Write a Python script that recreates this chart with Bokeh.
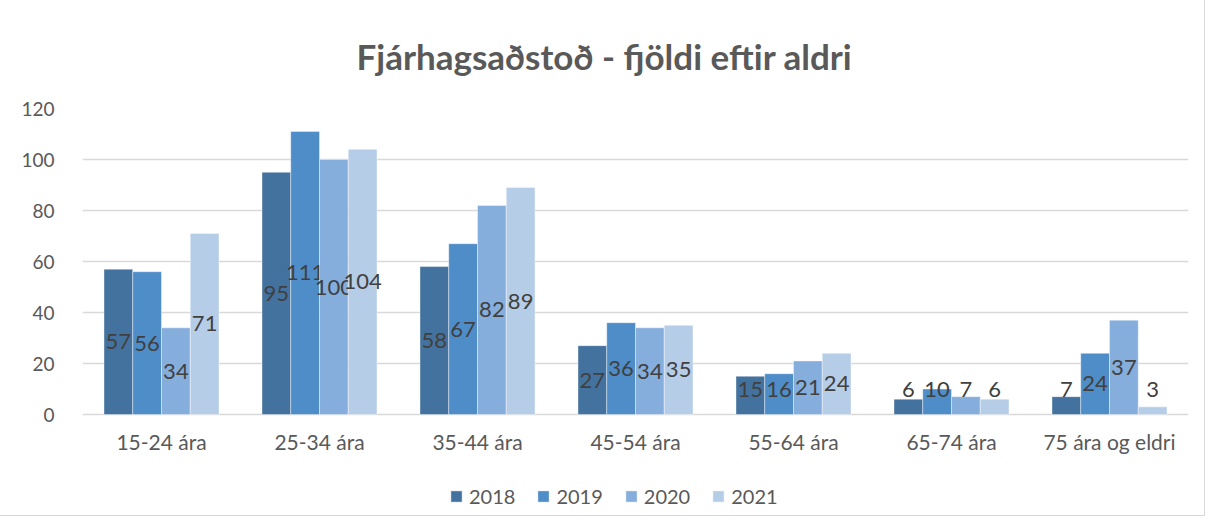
from bokeh.plotting import figure
from bokeh.models import ColumnDataSource, FactorRange, Range1d, Legend, LegendItem, Title, FixedTicker
from bokeh.transform import dodge
from bokeh.core.properties import value
from bokeh.embed import file_html
from bokeh.resources import INLINE

categories = ["15-24 ára", "25-34 ára", "35-44 ára", "45-54 ára", "55-64 ára", "65-74 ára", "75 ára og eldri"]
years = ["2018", "2019", "2020", "2021"]
v2018 = [57, 95, 58, 27, 15, 6, 7]
v2019 = [56, 111, 67, 36, 16, 10, 24]
v2020 = [34, 100, 82, 34, 21, 7, 37]
v2021 = [71, 104, 89, 35, 24, 6, 3]
y_ticks = [0, 20, 40, 60, 80, 100, 120]
title_text = "Fjárhagsaðstoð - fjöldi eftir aldri"

colors = ["#44729F", "#4F8DC8", "#85AEDC", "#B6CDE8"]
series = [v2018, v2019, v2020, v2021]
offsets = [-0.273, -0.091, 0.091, 0.273]
bar_w = 0.182
FONT = "Lato"

# frame spans from the 120 gridline down to the legend area; 0 sits 101px above frame bottom
p = figure(x_range=FactorRange(*categories), y_range=Range1d(-39.6, 120),
           frame_width=1106, frame_height=407, output_backend="svg", toolbar_location=None,
           min_border_left=82, min_border_right=16, min_border_top=107, min_border_bottom=0)
p.styles = {"outline": "1px solid #D9D9D9"}
p.outline_line_color = None
p.background_fill_color = "white"
p.border_fill_color = "white"

p.xgrid.grid_line_color = None
p.ygrid.grid_line_color = "#D9D9D9"
p.ygrid.grid_line_width = 1.3
p.yaxis.ticker = FixedTicker(ticks=y_ticks)
p.xaxis.fixed_location = 0

for ax in (p.xaxis, p.yaxis):
    ax.axis_line_color = None
    ax.major_tick_line_color = None
    ax.minor_tick_line_color = None
    ax.major_label_text_font = FONT
    ax.major_label_text_color = "#595959"
p.xaxis.major_label_text_font_size = "21px"
p.yaxis.major_label_text_font_size = "19px"
p.xaxis.major_label_standoff = 8
p.yaxis.major_label_standoff = 22

items = []
for yr, vals, col, off in zip(years, series, colors, offsets):
    ly = [max(v / 2.0, 9.8) for v in vals]
    src = ColumnDataSource(dict(cat=categories, val=vals, ly=ly, txt=[str(v) for v in vals]))
    r = p.vbar(x=dodge("cat", off, range=p.x_range), top="val", width=bar_w, source=src,
               fill_color=col, line_color="white", line_alpha=0.5, line_width=0.8)
    p.text(x=dodge("cat", off, range=p.x_range), y="ly", text="txt", source=src,
           text_align="center", text_baseline="middle", text_font=value(FONT),
           text_font_size="22px", text_color="#404040")
    items.append(LegendItem(label=yr, renderers=[r]))

legend = Legend(items=items, orientation="horizontal", location=(367, 7),
                label_text_font=FONT, label_text_font_size="20px", label_text_color="#595959",
                glyph_width=14, glyph_height=14, label_standoff=6, spacing=21,
                border_line_color=None, background_fill_alpha=0, margin=0, padding=0)
p.add_layout(legend, "center")

title = Title(text=title_text, text_font=FONT, text_font_size="35px", text_font_style="bold",
              text_color="#595959", align="left", offset=274, standoff=64)
p.add_layout(title, "above")

open("out.html", "w").write(file_html(p, INLINE))
